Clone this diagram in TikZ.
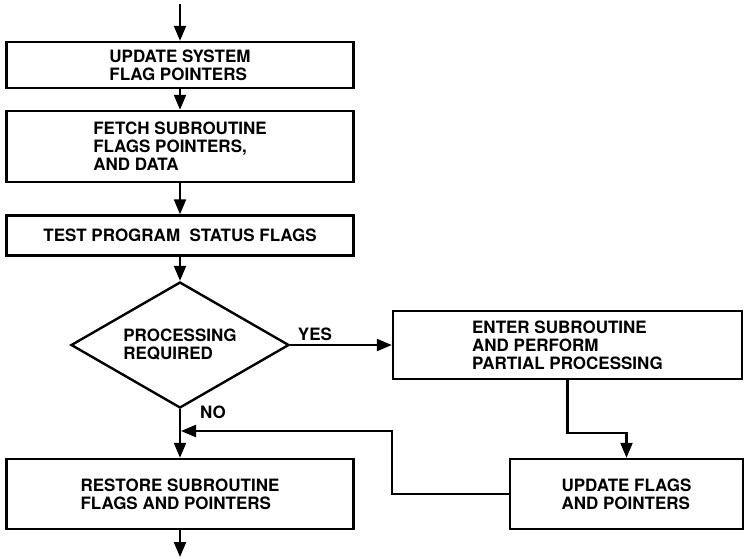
\documentclass[tikz,border=0pt]{standalone}
\usepackage{fontspec}
\setmainfont{TeX Gyre Heros}
\usetikzlibrary{shapes.geometric,arrows.meta}
\begin{document}
\begin{tikzpicture}[x=1pt,y=-1pt,
  every node/.style={font=\bfseries\fontsize{17}{18}\selectfont, inner sep=0pt},
  procbox/.style={draw, line width=2.4pt, rectangle, align=left},
  decbox/.style={draw, line width=2.4pt, diamond, aspect=1.73, minimum width=218pt, minimum height=126pt, align=left},
  arr/.style={line width=2.2pt, -{Triangle[width=12pt,length=15pt]}},
  lbl/.style={font=\bfseries\fontsize{17}{18}\selectfont}
]
\useasboundingbox (0,0) rectangle (744,558);
\coordinate (top) at (180,4);
\node[procbox, minimum width=347pt, minimum height=46pt] (b1) at (180,65) {UPDATE SYSTEM\\FLAG POINTERS};
\node[procbox, minimum width=347pt, minimum height=71pt] (b2) at (180,146.5) {FETCH SUBROUTINE\\FLAGS POINTERS,\\AND DATA};
\node[procbox, minimum width=347pt, minimum height=40pt] (b3) at (180,235.5) {TEST PROGRAM\ \ STATUS FLAGS};
\node[decbox] (d) at (180,345) {PROCESSING\\REQUIRED};
\node[procbox, minimum width=349pt, minimum height=68pt] (b4) at (567.5,345) {ENTER SUBROUTINE\\AND PERFORM\\PARTIAL PROCESSING};
\node[procbox, minimum width=347pt, minimum height=70pt] (b5) at (180,494) {RESTORE SUBROUTINE\\FLAGS AND POINTERS};
\node[procbox, minimum width=233pt, minimum height=70pt] (b6) at (626.5,494) {UPDATE FLAGS\\AND POINTERS};
\coordinate (bot) at (180,557);
\coordinate (fb) at (392,431);
\coordinate (m) at (181,431);
\node[lbl] (yes) at (315,334) {YES};
\node[lbl] (no) at (213,412) {NO};

\draw[arr] (top) -- (b1.north);
\draw[arr] (b1.south) -- (b2.north);
\draw[arr] (b2.south) -- (b3.north);
\draw[arr] (b3.south) -- (d.north);
\draw[arr] (d.east) -- (b4.west);
\draw[arr] (d.south) -- (b5.north);
\draw[arr] (b4.south) -- ++(0,53) -| (b6.north);
\draw[arr] (b6.west) -| (fb) -- (m);
\draw[arr] (b5.south) -- (bot);
\end{tikzpicture}
\end{document}
